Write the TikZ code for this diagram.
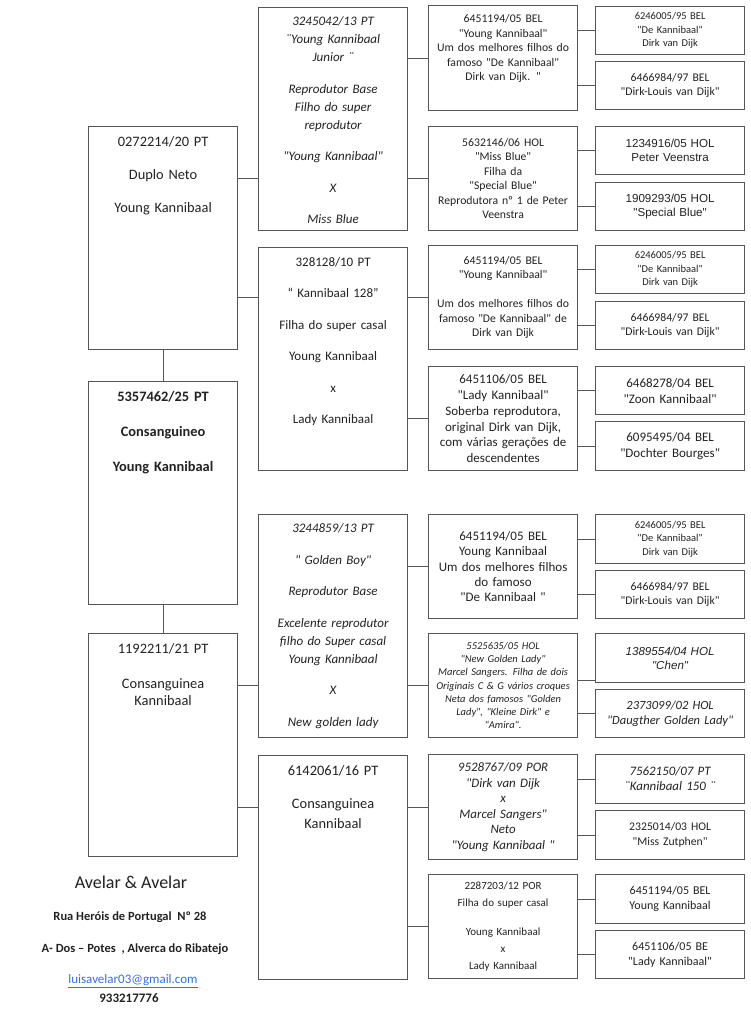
\documentclass[tikz,border=0pt]{standalone}
\usepackage{fontspec}
\setmainfont{Carlito}[Ligatures=TeXOff]
\newfontfamily\arialfont{Liberation Sans}[Ligatures=TeXOff]
\usetikzlibrary{positioning}
\definecolor{framegray}{HTML}{555555}
\definecolor{inkgray}{HTML}{222222}
\definecolor{mailblue}{HTML}{3B6FD0}

\begin{document}
\begin{tikzpicture}[
    x=1pt, y=-1pt,
    box/.style={draw=framegray, line width=1.2pt, anchor=north west, minimum width=149pt, inner sep=1pt, text width=145pt, align=center, text=inkgray},
    tallbox/.style={box, minimum height=223pt},
    midbox/.style={box, minimum height=104pt},
    lowbox/.style={box, minimum height=48pt},
    txt/.style={inner sep=0pt, text width=145pt, align=center, text=inkgray},
    ft10/.style={font=\fontsize{10.5}{13.5}\selectfont},
    ft11/.style={font=\fontsize{11.7}{14.5}\selectfont},
    ft12/.style={font=\fontsize{12.5}{15.5}\selectfont},
    ft13/.style={font=\fontsize{13}{15.9}\selectfont},
    ft14/.style={font=\fontsize{14.4}{16.5}\selectfont},
    ftsire/.style={font=\fontsize{13}{18}\selectfont},
    link/.style={draw=framegray, line width=1.2pt}
]
\useasboundingbox (0,0) rectangle (750,1036);

% generation 1
\node[tallbox] (d1) at (88,126) {};
\node[txt, ft14, below=10.5pt of d1.north] (d1t) {0272214/20 PT\\[16.5pt] Duplo Neto\\[16.5pt] Young Kannibaal};
\node[tallbox] (d2) at (88,381) {};
\node[txt, font=\fontsize{14.4}{17.5}\selectfont\bfseries, below=10.5pt of d2.north] (d2t) {5357462/25 PT\\[17.5pt] Consanguineo\\[17.5pt] Young Kannibaal};
\node[tallbox] (d3) at (88,633) {};
\node[txt, font=\fontsize{14.4}{17.3}\selectfont, below=10.5pt of d3.north] (d3t) {1192211/21 PT\\[17.5pt] Consanguinea\\ Kannibaal};

% generation 2
\node[tallbox] (a) at (258,7) {};
\node[txt, ftsire, below=9.9pt of a.north] (at) {\itshape 3245042/13 PT\\ ¨Young Kannibaal\\ Junior ¨\\[13.5pt] Reprodutor Base\\ Filho do super\\ reprodutor\\[13.5pt] "Young Kannibaal"\\[13.5pt] X\\[13.5pt] Miss Blue};
\node[tallbox] (b) at (258,247) {};
\node[txt, ftsire, below=9.9pt of b.north] (bt) {328128/10 PT\\[13.5pt] “ Kannibaal 128”\\[13.5pt] Filha do super casal\\[13.5pt] Young Kannibaal\\[13.5pt] x\\[13.5pt] Lady Kannibaal};
\node[tallbox] (c) at (258,514) {};
\node[txt, ftsire, below=9.9pt of c.north] (ct) {\itshape 3244859/13 PT\\[13.5pt] " Golden Boy"\\[13.5pt] Reprodutor Base\\[13.5pt] Excelente reprodutor\\ filho do Super casal\\ Young Kannibaal\\[13.5pt] X\\[13.5pt] New golden lady};
\node[tallbox, minimum height=224pt] (d) at (258,755) {};
\node[txt, font=\fontsize{14.4}{20}\selectfont, below=10.5pt of d.north] (dt) {6142061/16 PT\\[13pt] Consanguinea\\ Kannibaal};

% generation 3
\node[midbox, ft11, minimum height=105pt] (k1) at (428,5) {6451194/05 BEL\\ "Young Kannibaal"\\ Um dos melhores filhos do\\ famoso "De Kannibaal"\\ Dirk van Dijk. "\\[6pt]\mbox{}};
\node[midbox, ft11] (k2) at (428,126) {5632146/06 HOL\\ "Miss Blue"\\ Filha da\\ "Special Blue"\\ Reprodutora nº 1 de Peter\\ Veenstra};
\node[midbox, ft11] (k3) at (428,245) {6451194/05 BEL\\ "Young Kannibaal"\\[14.5pt] Um dos melhores filhos do\\ famoso "De Kannibaal" de\\ Dirk van Dijk};
\node[midbox, ft13] (k4) at (428,366) {6451106/05 BEL\\ "Lady Kannibaal"\\ Soberba reprodutora,\\ original Dirk van Dijk,\\ com várias gerações de\\ descendentes};
\node[midbox, font=\fontsize{13}{15.4}\selectfont] (k5) at (428,514) {6451194/05 BEL\\ Young Kannibaal\\ Um dos melhores filhos\\ do famoso\\ "De Kannibaal "};
\node[midbox, font=\fontsize{10.5}{13.2}\selectfont\itshape] (k6) at (428,633) {5525635/05 HOL\\ "New Golden Lady"\\ Marcel Sangers. Filha de dois\\ Originais C \& G vários croques\\ Neta dos famosos "Golden\\ Lady", "Kleine Dirk" e\\ "Amira".};
\node[midbox, font=\fontsize{12.9}{15.6}\selectfont\itshape, minimum height=105pt] (k7) at (428,754) {9528767/09 POR\\ "Dirk van Dijk\\ x\\ Marcel Sangers"\\ Neto\\ "Young Kannibaal "};
\node[midbox, font=\fontsize{11}{17}\selectfont] (k8) at (428,874) {2287203/12 POR\\ Filha do super casal\\[12pt] Young Kannibaal\\ x\\ Lady Kannibaal};

% generation 4
\node[lowbox, ft10] (g1) at (595,6) {6246005/95 BEL\\ "De Kannibaal"\\ Dirk van Dijk};
\node[lowbox, ft11] (g2) at (595,61) {6466984/97 BEL\\ "Dirk-Louis van Dijk"};
\node[lowbox, font=\fontsize{11.6}{14}\selectfont\arialfont] (g3) at (595,126) {1234916/05 HOL\\ Peter Veenstra};
\node[lowbox, font=\fontsize{11.6}{14}\selectfont\arialfont] (g4) at (595,182) {1909293/05 HOL\\ "Special Blue"};
\node[lowbox, ft10] (g5) at (595,245) {6246005/95 BEL\\ "De Kannibaal"\\ Dirk van Dijk};
\node[lowbox, ft11] (g6) at (595,301) {6466984/97 BEL\\ "Dirk-Louis van Dijk"};
\node[lowbox, ft13] (g7) at (595,366) {6468278/04 BEL\\ "Zoon Kannibaal"};
\node[lowbox, ft13, minimum height=49pt] (g8) at (595,421) {6095495/04 BEL\\ "Dochter Bourges"};
\node[lowbox, ft10, minimum height=49pt] (g9) at (595,514) {6246005/95 BEL\\ "De Kannibaal"\\ Dirk van Dijk};
\node[lowbox, ft11] (g10) at (595,570) {6466984/97 BEL\\ "Dirk-Louis van Dijk"};
\node[lowbox, font=\fontsize{11.6}{14.5}\selectfont\arialfont\itshape, minimum height=49pt] (g11) at (595,633) {1389554/04 HOL\\ "Chen"};
\node[lowbox, font=\fontsize{12.5}{14.5}\selectfont\itshape] (g12) at (595,689) {2373099/02 HOL\\ "Daugther Golden Lady"};
\node[lowbox, font=\fontsize{12.9}{15}\selectfont\itshape, minimum height=49pt] (g13) at (595,754) {7562150/07 PT\\ ¨Kannibaal 150 ¨};
\node[lowbox, font=\fontsize{11.7}{15.5}\selectfont, minimum height=49pt] (g14) at (595,810) {2325014/03 HOL\\ "Miss Zutphen"};
\node[lowbox, font=\fontsize{12}{15}\selectfont, minimum height=49pt] (g15) at (595,874) {6451194/05 BEL\\ Young Kannibaal};
\node[lowbox, font=\fontsize{12}{15}\selectfont] (g16) at (595,930) {6451106/05 BE\\ "Lady Kannibaal"};

% links
\draw[link] (d1.south) -- (d2.north);
\draw[link] (d2.south) -- (d3.north);
\draw[link] (d1.east |- k2.west) -- (a.west |- k2.west);
\draw[link] (d1.east |- k3.west) -- (b.west |- k3.west);
\draw[link] (d3.east |- k6.west) -- (c.west |- k6.west);
\draw[link] (d3.east |- k7.west) -- (d.west |- k7.west);
\foreach \p/\c in {a/k1,a/k2,b/k3,b/k4,c/k5,c/k6,d/k7,d/k8,k1/g1,k1/g2,k2/g3,k2/g4,k3/g5,k3/g6,k4/g7,k4/g8,k5/g9,k5/g10,k6/g12,k7/g13,k7/g14,k8/g15,k8/g16}
  \draw[link] (\p.east |- \c.west) -- (\c.west);
\coordinate (g11in) at ([yshift=3pt]g11.south west);
\draw[link] (k6.east |- g11in) -- (g11in);

% address
\node[text=inkgray, font=\fontsize{18}{22}\selectfont] (brand) at (131,882) {Avelar \& Avelar};
\node[text=inkgray, font=\fontsize{12.5}{15}\selectfont\bfseries] (street) at (130,917) {Rua Heróis de Portugal\ \ Nº 28};
\node[text=inkgray, font=\fontsize{12.5}{15}\selectfont\bfseries] (town) at (135,949) {A- Dos – Potes\ \ , Alverca do Ribatejo};
\node[text=mailblue, font=\fontsize{13}{15}\selectfont] (mail) at (133,981) {\underline{luisavelar03@gmail.com}};
\node[text=inkgray, font=\fontsize{13}{15}\selectfont\bfseries] (phone) at (129,998) {933217776};
\end{tikzpicture}
\end{document}
